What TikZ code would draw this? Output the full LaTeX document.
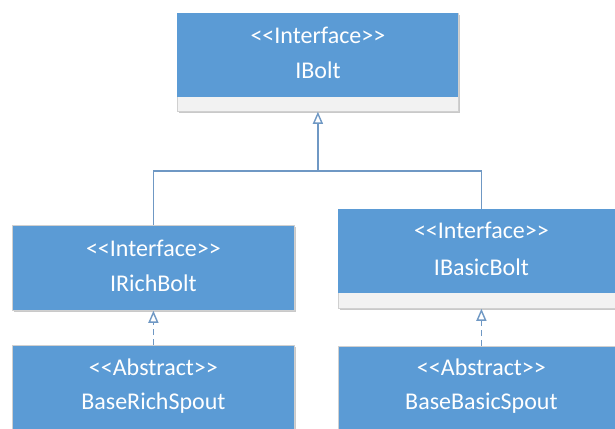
\documentclass[tikz,border=0pt]{standalone}
\usepackage{fontspec}
\setmainfont{Carlito}[Ligatures=TeXOff]
\usetikzlibrary{arrows.meta,shadows}

\definecolor{umlblue}{HTML}{5B9BD5}
\definecolor{umlstrip}{HTML}{F2F2F2}
\definecolor{umledge}{HTML}{D0D0D0}
\definecolor{linkblue}{HTML}{6F98C4}

\tikzset{
  classbox/.style={draw=umledge, line width=0.8pt, fill=umlblue, anchor=north west,
    inner sep=0pt, drop shadow={shadow xshift=2pt, shadow yshift=-2pt, opacity=0.35, fill=black!60}},
  stripbox/.style={classbox, fill=umlstrip},
  classtext/.style={text=white, font=\fontsize{24}{27}\selectfont, inner sep=0pt, anchor=center},
  conn/.style={draw=linkblue, line width=1.4pt},
  realize/.style={conn, dash pattern=on 6pt off 4pt},
  hollow/.style={-{Triangle[open, length=12pt, width=10pt, fill=white]}}
}

\begin{document}
\begin{tikzpicture}[x=1pt, y=-1pt]
  \useasboundingbox (0,0) rectangle (615,428);
  \clip (0,0) rectangle (615,428);
  \fill[white] (0,0) rectangle (615,428);

  % IBolt: blue header over a grey compartment strip
  \node[stripbox, minimum width=281pt, minimum height=98pt] (ibolt) at (177,13) {};
  \fill[umlblue] ([xshift=0.4pt,yshift=-0.4pt]ibolt.north west) rectangle ([xshift=-0.4pt]ibolt.north east |- 0,97);
  \node[classtext] (iboltst) at ([yshift=-22pt]ibolt.north) {<<Interface>>};
  \node[classtext] (iboltnm) at ([yshift=-57pt]ibolt.north) {IBolt};

  % IRichBolt
  \node[classbox, minimum width=282pt, minimum height=85pt] (irich) at (12,225) {};
  \node[classtext] (irichst) at ([yshift=-23pt]irich.north) {<<Interface>>};
  \node[classtext] (irichnm) at ([yshift=-58pt]irich.north) {IRichBolt};

  % IBasicBolt
  \node[stripbox, minimum width=286pt, minimum height=99pt] (ibasic) at (338,209) {};
  \fill[umlblue] ([xshift=0.4pt,yshift=-0.4pt]ibasic.north west) rectangle ([xshift=-0.4pt]ibasic.north east |- 0,293);
  \node[classtext] (ibasicst) at ([yshift=-21pt]ibasic.north) {<<Interface>>};
  \node[classtext] (ibasicnm) at ([yshift=-58pt]ibasic.north) {IBasicBolt};

  % BaseRichSpout
  \node[classbox, minimum width=282pt, minimum height=110pt] (brich) at (12,345) {};
  \node[classtext] (brichst) at ([yshift=-22pt]brich.north) {<<Abstract>>};
  \node[classtext] (brichnm) at ([yshift=-58pt]brich.north) {BaseRichSpout};

  % BaseBasicSpout
  \node[classbox, minimum width=286pt, minimum height=110pt] (bbasic) at (338,346) {};
  \node[classtext] (bbasicst) at ([yshift=-21pt]bbasic.north) {<<Abstract>>};
  \node[classtext] (bbasicnm) at ([yshift=-57pt]bbasic.north) {BaseBasicSpout};

  % generalization: both interfaces extend IBolt
  \coordinate (join) at (ibolt.south |- 0,171);
  \draw[conn] (irich.north) |- (join);
  \draw[conn] (ibasic.north) |- (join);
  \draw[conn, hollow] (join) -- (ibolt.south);

  % realization: abstract spouts implement their interfaces
  \draw[realize, hollow] (brich.north) -- (irich.south);
  \draw[realize, hollow] (bbasic.north) -- (ibasic.south);
\end{tikzpicture}
\end{document}
